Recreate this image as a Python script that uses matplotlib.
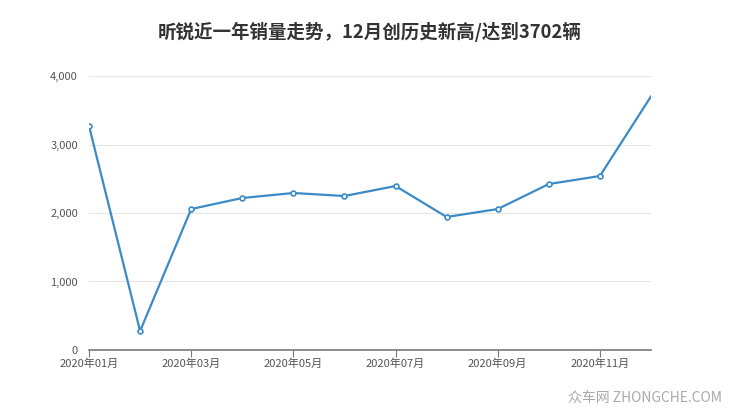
import matplotlib
matplotlib.use("Agg")
import matplotlib.pyplot as plt
import numpy as np

plt.rcParams["font.family"] = ["Noto Sans CJK SC", "DejaVu Sans"]

# 월별 판매량
months = ["2020年01月", "2020年02月", "2020年03月", "2020年04月",
          "2020年05月", "2020年06月", "2020年07月", "2020年08月",
          "2020年09月", "2020年10月", "2020年11月", "2020年12月"]
sales = [3270, 277, 2058, 2219, 2292, 2248, 2394, 1942,
         2058, 2423, 2540, 3702]
yticks = [0, 1000, 2000, 3000, 4000]

LINE = "#3a8bc8"
GRID = "#e6e6e6"
TXT = "#555555"

fig = plt.figure(figsize=(7.4, 4.17), dpi=100)
ax = fig.add_axes([0.1203, 0.1607, 0.7594, 0.657])

x = np.arange(len(months))
ax.plot(x, sales, color=LINE, lw=1.6, zorder=3)
ax.plot(x[:-1], sales[:-1], "o", ms=3.5, mfc="white", mec=LINE,
        mew=1.2, zorder=4)

ax.set_xlim(0, len(months) - 1)
ax.set_ylim(0, 4000)
ax.set_yticks(yticks)
ax.set_yticklabels([f"{v:,}" for v in yticks])
ax.set_xticks(x[::2])
ax.set_xticklabels(months[::2])

ax.grid(axis="y", color=GRID, lw=0.8)
ax.set_axisbelow(True)
for s in ["top", "right", "left"]:
    ax.spines[s].set_visible(False)
ax.spines["bottom"].set_color("#777777")
ax.spines["bottom"].set_linewidth(1.2)
ax.tick_params(axis="y", length=0, pad=8, labelsize=8, labelcolor=TXT)
ax.tick_params(axis="x", length=5, color="#777777", pad=1,
               labelsize=8, labelcolor=TXT)

fig.text(0.5, 0.923, "昕锐近一年销量走势，12月创历史新高/达到3702辆",
         ha="center", va="center", fontsize=13.3, fontweight="bold",
         color="#333333")
fig.text(0.975, 0.045, "众车网 ZHONGCHE.COM", ha="right", va="center",
         fontsize=10, color="#aaaaaa")

fig.savefig("out.png", dpi=100)
